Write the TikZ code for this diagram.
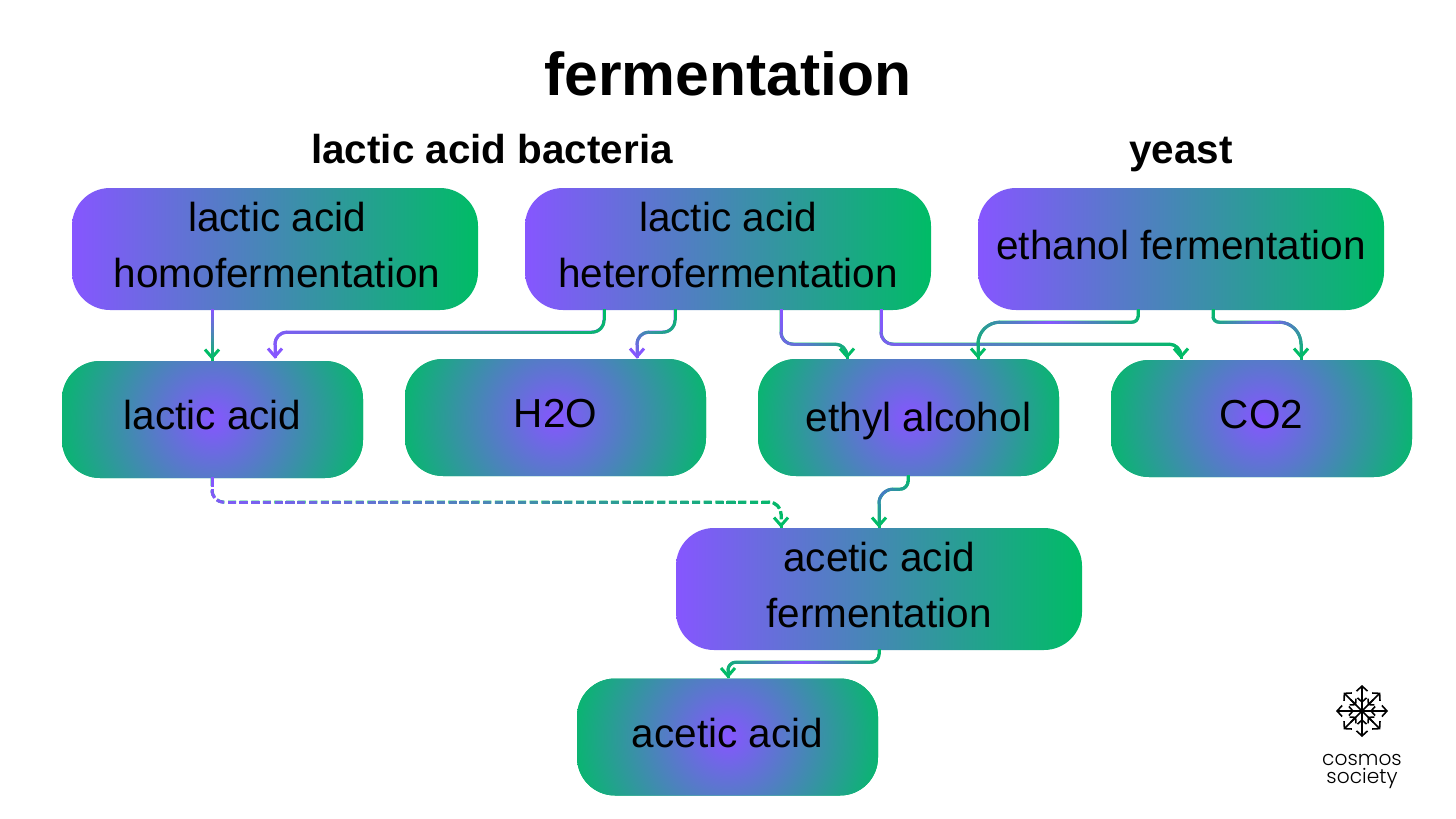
\documentclass[tikz,border=0pt]{standalone}
\usepackage{fontspec}
\setmainfont{Liberation Sans}
\newfontfamily\logofont{Poppins Light}
\usepackage{tikz}
\usetikzlibrary{arrows.meta,calc,decorations.markings}

\definecolor{cpurple}{HTML}{8656FF}
\definecolor{cgreen}{HTML}{00BC66}
\definecolor{cmid}{HTML}{4A88B4}
\definecolor{cblue}{HTML}{4878C8}
\colorlet{cviolet}{cpurple!70!cgreen}
\colorlet{cteal}{cgreen!65!cpurple}
\pgfdeclareradialshading{hubglow}{\pgfpointorigin}{color(0bp)=(cpurple); color(25bp)=(cgreen); color(50bp)=(cgreen)}
\def\flowperiod{2000}
\def\flowon{2000}

\tikzset{
    processbox/.style={rectangle, rounded corners=38pt, minimum width=406pt, minimum height=122pt,
        left color=cpurple, right color=cgreen, align=center, inner sep=0pt,
        text height=30pt, text depth=10pt, font=\fontsize{40.5}{56}\selectfont},
    productbox/.style={rectangle, rounded corners=38pt, minimum width=301pt, minimum height=117pt,
        fill=cgreen, align=center, inner sep=0pt, text height=30pt, text depth=10pt,
        font=\fontsize{40.5}{56}\selectfont,
        path picture={\shade[shading=hubglow] (path picture bounding box.center) circle (165pt);}},
    twolines/.style={text height=87pt, text depth=10pt},
    headtext/.style={font=\fontsize{40.4}{48}\bfseries\selectfont, inner sep=0pt, anchor=base},
    logotext/.style={font=\fontsize{20.2}{20}\logofont\selectfont, inner sep=0pt, anchor=base},
    logoline/.style={line width=1.6pt, black},
    flowdash/.code={\def\flowperiod{11.6}\def\flowon{8}},
    flow/.style n args={3}{
        draw=#3, line width=3pt, rounded corners=12pt,
        -{Straight Barb[length=8pt,width=14pt,line width=3pt]},
        postaction={decorate, decoration={markings,
            mark=between positions 0 and 1 step 1.5pt with {
                \pgfmathsetmacro\flowdist{\pgfkeysvalueof{/pgf/decoration/mark info/distance from start}}
                \pgfmathsetmacro\flowt{200*(\flowdist/\pgfdecoratedpathlength)}
                \pgfmathsetmacro\flowphase{mod(\flowdist,\flowperiod)}
                \ifdim\flowt pt<100pt
                    \colorlet{flowcol}{#2!\flowt!#1}
                \else
                    \pgfmathsetmacro\flowu{\flowt-100}
                    \colorlet{flowcol}{#3!\flowu!#2}
                \fi
                \ifdim\flowphase pt<\flowon pt
                    \draw[-, solid, flowcol, line width=3pt] (-0.9pt,0pt) -- (0.9pt,0pt);
                \fi
            }}}
    }
}

\begin{document}
\begin{tikzpicture}[x=1pt, y=-1pt]
    \useasboundingbox (0,0) rectangle (1456,819);

    \coordinate (xHomo) at (275, 249);
    \coordinate (xHetero) at (728, 249);
    \coordinate (xEthanol) at (1181, 249);
    \coordinate (xLactic) at (212.5, 419.5);
    \coordinate (xWater) at (555.5, 417.5);
    \coordinate (xEthyl) at (908.5, 417.5);
    \coordinate (xCarbon) at (1261.5, 418.5);
    \coordinate (xAceticF) at (879, 589);
    \coordinate (xAcetic) at (727.5, 737);

    \node[font=\fontsize{60.6}{60}\bfseries\selectfont, inner sep=0pt] (nodetitle) at (728, 74) {fermentation};
    \node[headtext] (nodebacteria) at (492, 163) {lactic acid bacteria};
    \node[headtext] (nodeyeast) at (1181, 163) {yeast};

    \node[processbox, twolines] (nodehomo) at (xHomo) {\hspace*{4pt}lactic acid\\\hspace*{4pt}homofermentation};
    \node[processbox, twolines] (nodehetero) at (xHetero) {lactic acid\\heterofermentation};
    \node[processbox] (nodeethanol) at (xEthanol) {ethanol fermentation};
    \node[productbox] (nodelactic) at (xLactic) {lactic acid};
    \node[productbox] (nodewater) at (xWater) {H2O};
    \node[productbox, text depth=2pt] (nodeethyl) at (xEthyl) {\hspace*{20pt}ethyl alcohol};
    \node[productbox] (nodecarbon) at (xCarbon) {CO2};
    \node[processbox, twolines] (nodeaceticf) at (xAceticF) {acetic acid\\fermentation};
    \node[productbox] (nodeacetic) at (xAcetic) {acetic acid};

    \draw[flow={cpurple}{cmid}{cgreen}] ($(nodehomo.south)+(-63,0)$) -- ($(nodelactic.north)+(-0.5,-1)$);
    \draw[flow={cgreen}{cmid}{cpurple}] ($(nodehetero.south)+(-124,0)$) -- ++(0,22) -| ($(nodelactic.north)+(62.5,-2)$);
    \draw[flow={cgreen}{cteal}{cpurple}] ($(nodehetero.south)+(-53,0)$) -- ++(0,22) -| ($(nodewater.north)+(81.5,0)$);
    \draw[flow={cpurple}{cviolet}{cgreen}] ($(nodehetero.south)+(53,0)$) -- ++(0,34) -| ($(nodeethyl.north)+(-61.5,0)$);
    \draw[flow={cpurple}{cmid}{cgreen}] ($(nodehetero.south)+(153,0)$) -- ++(0,34) -| ($(nodecarbon.north)+(-80.5,-1)$);
    \draw[flow={cgreen}{cpurple}{cgreen}] ($(nodeethanol.south)+(-43,0)$) [rounded corners=6pt] -- ++(0,12) [rounded corners=22pt] -| ($(nodeethyl.north)+(69.5,0)$);
    \draw[flow={cgreen}{cpurple}{cgreen}] ($(nodeethanol.south)+(32,0)$) [rounded corners=6pt] -- ++(0,12) [rounded corners=22pt] -| ($(nodecarbon.north)+(39.5,-1)$);
    \draw[flow={cpurple}{cmid}{cgreen}, flowdash, dash pattern=on 8pt off 3.6pt] ($(nodelactic.south)+(-0.5,0)$) -- ++(0,24) -| ($(nodeaceticf.north)+(-98,0)$);
    \draw[flow={cgreen}{cblue}{cgreen}] ($(nodeethyl.south)+(-0.5,0)$) [rounded corners=8pt] -- ++(0,13) [rounded corners=14pt] -| (nodeaceticf.north);
    \draw[flow={cgreen}{cpurple}{cgreen}] (nodeaceticf.south) [rounded corners=8pt] -- ++(0,12) -| ($(nodeacetic.north)+(0.5,0)$);

    \foreach \a in {0,45,...,315} {
        \draw[logoline, shift={(1362,711)}, rotate=\a, -{Straight Barb[length=5pt,width=11pt,line width=1.6pt]}] (0,0) -- (26,0);
        \draw[logoline, shift={(1362,711)}, rotate=\a, -{Straight Barb[length=4pt,width=9pt,line width=1.6pt]}] (16,0) -- (8,0);
    }
    \node[logotext] (nodecosmos) at (1362, 765) {cosmos};
    \node[logotext] (nodesociety) at (1362, 783) {society};
\end{tikzpicture}
\end{document}
